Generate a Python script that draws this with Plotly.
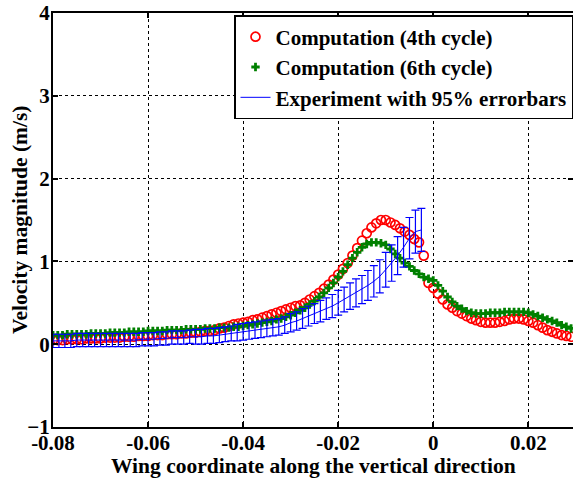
import plotly.graph_objects as go

# Sample positions along the wing (m)
x_comp = [
    -0.080, -0.079, -0.078, -0.077, -0.076, -0.075, -0.074, -0.073, -0.072, -0.071,
    -0.070, -0.069, -0.068, -0.067, -0.066, -0.065, -0.064, -0.063, -0.062, -0.061,
    -0.060, -0.059, -0.058, -0.057, -0.056, -0.055, -0.054, -0.053, -0.052, -0.051,
    -0.050, -0.049, -0.048, -0.047, -0.046, -0.045, -0.044, -0.043, -0.042, -0.041,
    -0.040, -0.039, -0.038, -0.037, -0.036, -0.035, -0.034, -0.033, -0.032, -0.031,
    -0.030, -0.029, -0.028, -0.027, -0.026, -0.025, -0.024, -0.023, -0.022, -0.021,
    -0.020, -0.019, -0.018, -0.017, -0.016, -0.015, -0.014, -0.013, -0.012, -0.011,
    -0.010, -0.009, -0.008, -0.007, -0.006, -0.005, -0.004, -0.003, -0.002, -0.001,
    0.000, 0.001, 0.002, 0.003, 0.004, 0.005, 0.006, 0.007, 0.008, 0.009,
    0.010, 0.011, 0.012, 0.013, 0.014, 0.015, 0.016, 0.017, 0.018, 0.019,
    0.020, 0.021, 0.022, 0.023, 0.024, 0.025, 0.026, 0.027, 0.028, 0.029,
]

# Computed velocity magnitude, 4th cycle (m/s)
v_cycle4 = [
    0.05, 0.05, 0.05, 0.06, 0.06, 0.06, 0.06, 0.07, 0.07, 0.07,
    0.07, 0.08, 0.08, 0.08, 0.08, 0.09, 0.09, 0.09, 0.10, 0.10,
    0.10, 0.11, 0.11, 0.11, 0.12, 0.12, 0.12, 0.13, 0.13, 0.14,
    0.14, 0.15, 0.16, 0.16, 0.17, 0.19, 0.20, 0.22, 0.24, 0.25,
    0.26, 0.27, 0.29, 0.30, 0.32, 0.34, 0.36, 0.38, 0.40, 0.42,
    0.44, 0.46, 0.47, 0.50, 0.54, 0.58, 0.62, 0.67, 0.72, 0.78,
    0.84, 0.91, 0.98, 1.07, 1.16, 1.25, 1.34, 1.41, 1.46, 1.50,
    1.50, 1.47, 1.44, 1.40, 1.36, 1.32, 1.27, 1.23, 1.07, 0.74,
    0.68, 0.61, 0.54, 0.48, 0.44, 0.40, 0.37, 0.34, 0.31, 0.29,
    0.27, 0.26, 0.26, 0.26, 0.27, 0.28, 0.30, 0.31, 0.31, 0.30,
    0.28, 0.26, 0.23, 0.20, 0.17, 0.15, 0.13, 0.11, 0.10, 0.09,
]

# Computed velocity magnitude, 6th cycle (m/s)
v_cycle6 = [
    0.11, 0.11, 0.11, 0.12, 0.12, 0.12, 0.12, 0.12, 0.13, 0.13,
    0.13, 0.13, 0.14, 0.14, 0.14, 0.14, 0.15, 0.15, 0.15, 0.15,
    0.16, 0.16, 0.16, 0.16, 0.17, 0.17, 0.17, 0.17, 0.18, 0.18,
    0.18, 0.18, 0.19, 0.19, 0.19, 0.20, 0.20, 0.20, 0.21, 0.21,
    0.22, 0.23, 0.24, 0.25, 0.26, 0.27, 0.28, 0.30, 0.31, 0.33,
    0.35, 0.38, 0.41, 0.44, 0.48, 0.52, 0.57, 0.62, 0.68, 0.74,
    0.81, 0.88, 0.96, 1.04, 1.11, 1.17, 1.21, 1.23, 1.23, 1.22,
    1.20, 1.15, 1.09, 1.04, 0.98, 0.94, 0.89, 0.85, 0.81, 0.79,
    0.77, 0.71, 0.64, 0.57, 0.51, 0.46, 0.43, 0.40, 0.38, 0.37,
    0.37, 0.37, 0.38, 0.38, 0.38, 0.39, 0.39, 0.39, 0.39, 0.39,
    0.38, 0.36, 0.34, 0.32, 0.30, 0.28, 0.26, 0.23, 0.21, 0.19,
]

# Measured positions (m), mean velocity (m/s) and 95% half-widths (m/s)
x_exp = [
    -0.08, -0.07875, -0.0775, -0.07625, -0.075, -0.07375, -0.0725, -0.07125,
    -0.07, -0.06875, -0.0675, -0.06625, -0.065, -0.06375, -0.0625, -0.06125,
    -0.06, -0.05875, -0.0575, -0.05625, -0.055, -0.05375, -0.0525, -0.05125,
    -0.05, -0.04875, -0.0475, -0.04625, -0.045, -0.04375, -0.0425, -0.04125,
    -0.04, -0.03875, -0.0375, -0.03625, -0.035, -0.03375, -0.0325, -0.03125,
    -0.03, -0.02875, -0.0275, -0.02625, -0.025, -0.02375, -0.0225, -0.02125,
    -0.02, -0.01875, -0.0175, -0.01625, -0.015, -0.01375, -0.0125, -0.01125,
    -0.01, -0.00875, -0.0075, -0.00625, -0.005, -0.00375, -0.0025,
]
v_exp = [
    0.04, 0.04, 0.04, 0.04, 0.05, 0.05, 0.05, 0.05,
    0.05, 0.05, 0.05, 0.05, 0.05, 0.05, 0.05, 0.06,
    0.06, 0.06, 0.07, 0.07, 0.08, 0.08, 0.08, 0.09,
    0.09, 0.09, 0.10, 0.10, 0.11, 0.12, 0.13, 0.14,
    0.15, 0.16, 0.17, 0.18, 0.19, 0.20, 0.21, 0.23,
    0.26, 0.28, 0.31, 0.34, 0.37, 0.40, 0.43, 0.46,
    0.50, 0.54, 0.58, 0.62, 0.66, 0.71, 0.76, 0.82,
    0.90, 0.98, 1.07, 1.17, 1.28, 1.36, 1.38,
]
err_exp = [
    0.08, 0.08, 0.08, 0.08, 0.08, 0.08, 0.08, 0.08,
    0.08, 0.08, 0.08, 0.08, 0.08, 0.08, 0.08, 0.08,
    0.08, 0.08, 0.08, 0.08, 0.08, 0.08, 0.08, 0.08,
    0.09, 0.09, 0.09, 0.09, 0.09, 0.09, 0.09, 0.10,
    0.10, 0.10, 0.10, 0.10, 0.10, 0.10, 0.10, 0.10,
    0.11, 0.11, 0.12, 0.12, 0.12, 0.13, 0.13, 0.14,
    0.15, 0.15, 0.16, 0.17, 0.17, 0.18, 0.19, 0.20,
    0.21, 0.22, 0.23, 0.24, 0.25, 0.26, 0.26,
]

x_ticks = [-0.08, -0.06, -0.04, -0.02, 0, 0.02]
x_ticktext = ["-0.08", "-0.06", "-0.04", "-0.02", "0", "0.02"]
y_ticks = [-1, 0, 1, 2, 3, 4]

x_title = "Wing coordinate along the vertical direction"
y_title = "Velocity magnitude (m/s)"

FONT = "Liberation Serif, Times New Roman, serif"

fig = go.Figure()

fig.add_trace(go.Scatter(
    x=x_comp, y=v_cycle4, mode="markers",
    name="Computation (4th cycle)",
    marker=dict(symbol="circle-open", size=9, color="#ff0000",
                line=dict(width=1.7, color="#ff0000")),
))

fig.add_trace(go.Scatter(
    x=x_comp, y=v_cycle6, mode="markers",
    name="Computation (6th cycle)",
    marker=dict(symbol="cross", size=7, color="#008000",
                line=dict(width=0)),
))

fig.add_trace(go.Scatter(
    x=x_exp, y=v_exp, mode="lines",
    name="Experiment with 95% errorbars",
    line=dict(color="#0000ff", width=1),
    error_y=dict(type="data", array=err_exp, visible=True,
                 color="#0000ff", thickness=1.2, width=4),
))

axis_common = dict(
    showline=True, linecolor="black", linewidth=2, mirror="ticks",
    ticks="inside", ticklen=5, tickwidth=1.5, tickcolor="black",
    showgrid=True, gridcolor="black", gridwidth=1, griddash="dot",
    zeroline=False, automargin=False,
    tickfont=dict(family=FONT, size=21, color="black", weight="bold"),
)

fig.update_xaxes(
    range=[-0.08, 0.0294], tickvals=x_ticks, ticktext=x_ticktext,
    ticklabelstandoff=-4,
    **axis_common,
)
fig.update_yaxes(
    range=[-1, 4], tickvals=y_ticks,
    ticklabelstandoff=-3,
    **axis_common,
)

title_font = dict(family=FONT, size=21.5, color="black", weight="bold")
fig.add_annotation(
    text=x_title, xref="paper", yref="paper", x=0.5, y=0,
    xanchor="center", yanchor="middle", yshift=-39,
    showarrow=False, font=title_font,
)
fig.add_annotation(
    text=y_title, xref="paper", yref="paper", x=0, y=0.5,
    xanchor="center", yanchor="middle", xshift=-33, textangle=-90,
    showarrow=False, font=title_font,
)

fig.update_layout(
    width=573, height=478,
    margin=dict(l=53, r=0, t=13, b=51),
    plot_bgcolor="white", paper_bgcolor="white",
    legend=dict(
        x=1, y=0.995, xanchor="right", yanchor="top",
        bgcolor="white", bordercolor="black", borderwidth=1.5,
        font=dict(family=FONT, size=21, color="black", weight="bold"),
        itemwidth=30, tracegroupgap=0,
    ),
    showlegend=True,
)

fig.write_html("out.html")
